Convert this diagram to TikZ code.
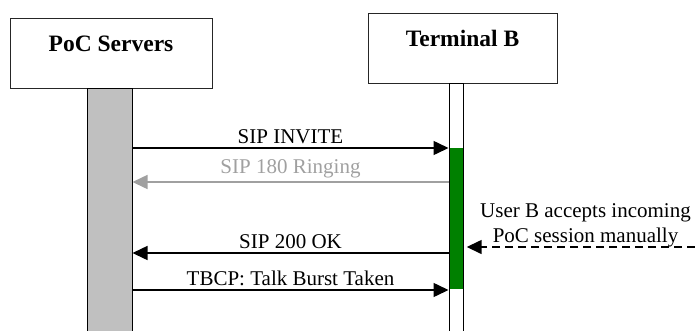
\documentclass[tikz,border=0pt]{standalone}
\usepackage{fontspec}
\setmainfont{LiberationSerif}[Extension=.ttf, UprightFont=*-Regular, BoldFont=*-Bold, ItalicFont=*-Italic, BoldItalicFont=*-BoldItalic]
\usetikzlibrary{arrows.meta,positioning}
\definecolor{servergray}{HTML}{C0C0C0}
\definecolor{ringgray}{HTML}{A0A0A0}
\definecolor{activegreen}{HTML}{008000}

\begin{document}
\begin{tikzpicture}[x=1pt,y=-1pt, font=\fontsize{21}{25}\selectfont,
  entity/.style={draw=black!85, line width=1pt, inner sep=0pt, minimum height=70pt,
    text height=16pt, text depth=19pt, font=\fontsize{23.5}{28}\selectfont\bfseries},
  lifeline/.style={draw, line width=1pt, inner sep=0pt, anchor=north},
  msg/.style={line width=1.5pt, -{Triangle[length=15pt,width=14pt]}}]
\useasboundingbox (0,0) rectangle (695,330);
\node[entity, minimum width=202pt] (srv) at (111,53) {PoC Servers};
\node[entity, minimum width=189pt] (termb) at (462.5,48) {Terminal B};
\node[lifeline, fill=servergray, minimum width=45pt, minimum height=243pt] (srvline) at (109.5,88) {};
\node[lifeline, fill=white, minimum width=14pt, minimum height=248pt] (bline) at (456,83) {};
\node[fill=activegreen, inner sep=0pt, anchor=north, minimum width=13pt, minimum height=141pt] (bactive) at (456,148) {};
\foreach \i/\y/\from/\to/\col/\msgtext in {
    1/148/s/b/black/SIP INVITE,
    2/182/b/s/ringgray/SIP 180 Ringing,
    3/253/b/s/black/SIP 200 OK,
    4/290/s/b/black/TBCP: Talk Burst Taken}{
  \coordinate (s\i) at (srvline.east |- 0,\y);
  \coordinate (b\i) at (bline.west |- 0,\y);
  \draw[msg, color=\col] (\from\i) -- (\to\i) node[midway, above, inner sep=3.5pt] (m\i) {\msgtext};
}
\node[align=center] (accept) at (585.5,225.5) {User B accepts incoming\\PoC session manually};
\coordinate (userin) at (695,247);
\draw[msg, dash pattern=on 8pt off 5pt, shorten >=4pt] (userin) -- (bactive.east |- userin);
\end{tikzpicture}
\end{document}
